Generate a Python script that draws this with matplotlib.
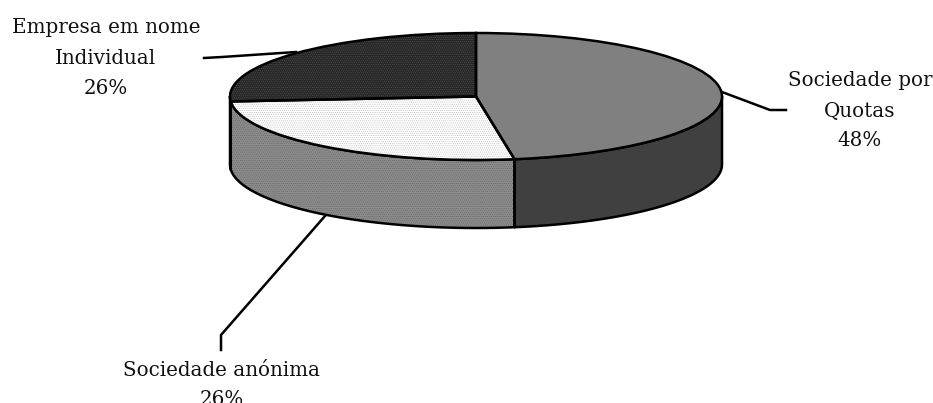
import numpy as np
import matplotlib
matplotlib.use("Agg")
import matplotlib.pyplot as plt
from matplotlib.patches import Polygon

# Data
categories = ["Sociedade por\nQuotas", "Sociedade anónima", "Empresa em nome\nIndividual"]
shares = [47.5, 26.25, 26.25]
share_labels = ["48%", "26%", "26%"]

# Styles
top_colors = ["#808080", "#ffffff", "#262626"]
hatch_colors = ["#808080", "#b4b4b4", "#5a5a5a"]
hatches = [None, "........", "........"]
side_colors = ["#404040", "#8c8c8c", "#262626"]
side_hatch_colors = ["#404040", "#5f5f5f", "#262626"]
side_hatches = [None, "........", None]

W, H = 933, 403
CX, CY, RX, RY, DEPTH = 476.0, 96.5, 246.0, 63.5, 68.0
LW = 1.8
plt.rcParams["hatch.linewidth"] = 0.35
plt.rcParams["font.family"] = "DejaVu Serif"

fig = plt.figure(figsize=(W / 100, H / 100), dpi=100, facecolor="white")
ax = fig.add_axes([0, 0, 1, 1])

def X(px):
    return (px - CX) / RX
def Y(py):
    return (CY - py) / RY

# Edge angles, clockwise from 12 o'clock
fractions = np.asarray(shares, dtype=float) / np.sum(shares)
edges = np.concatenate([[0.0], np.cumsum(fractions) * 2 * np.pi])
d = DEPTH / RY

# Rim (visible front part only)
for i in range(len(shares)):
    a0 = max(edges[i], np.pi / 2)
    a1 = min(edges[i + 1], 3 * np.pi / 2)
    if a1 <= a0:
        continue
    t = np.linspace(a0, a1, 120)
    xs, ys = np.sin(t), np.cos(t)
    pts = np.column_stack([np.r_[xs, xs[::-1]], np.r_[ys, ys[::-1] - d]])
    ax.add_patch(Polygon(pts, closed=True, facecolor=side_colors[i],
                         edgecolor=side_hatch_colors[i], hatch=side_hatches[i], lw=0, zorder=1))
    ax.add_patch(Polygon(pts, closed=True, facecolor="none", edgecolor="black",
                         lw=LW, joinstyle="round", zorder=2))

# Top face: filled layer, then outlines
wedges, _ = ax.pie(shares, startangle=90, counterclock=False, radius=1, colors=top_colors,
                   wedgeprops=dict(linewidth=0))
for w, hc, h in zip(wedges, hatch_colors, hatches):
    w.set_edgecolor(hc)
    w.set_zorder(3)
    if h:
        w.set_hatch(h)
outlines, _ = ax.pie(shares, startangle=90, counterclock=False, radius=1,
                     wedgeprops=dict(facecolor="none", edgecolor="black", linewidth=LW))
for w in outlines:
    w.set_zorder(4)

ax.set_aspect("auto")
ax.set_xlim(X(0), X(W))
ax.set_ylim(Y(H), Y(0))
ax.axis("off")

# Leader lines
leaders = [
    [(722, 92), (770, 110), (786, 110)],
    [(325, 216), (221, 335), (221, 350)],
    [(296, 52), (222, 57), (204, 58)],
]
for path in leaders:
    p = np.array(path, float)
    ax.plot(X(p[:, 0]), Y(p[:, 1]), color="black", lw=LW, zorder=2.5,
            solid_joinstyle="miter", clip_on=False)

# Labels
label_pos = [(860, 109), (222, 368), (106, 56)]
for cat, lab, (px, py) in zip(categories, share_labels, label_pos):
    lines = (cat + "\n" + lab).split("\n")
    if len(lines) == 2:
        ys = [py, py + 29.5]
    else:
        ys = [py - 30.5, py, py + 30]
    for s, yy in zip(lines, ys):
        ax.text(X(px), Y(yy), s, ha="center", va="center_baseline", fontsize=14.3,
                color="#111111", zorder=6)

fig.savefig("out.png", dpi=100, facecolor="white")
